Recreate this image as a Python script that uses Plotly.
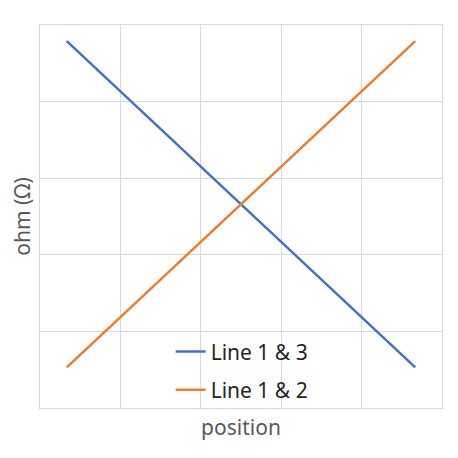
import plotly.graph_objects as go

x_pos = [0.333, 4.667]
line_13 = [4.79, 0.53]
line_12 = [0.53, 4.79]
names = ["Line 1 & 3", "Line 1 & 2"]
colors = ["#4472C4", "#ED7D31"]

fig = go.Figure()
for i, (name, ys) in enumerate(zip(names, [line_13, line_12])):
    fig.add_trace(go.Scatter(x=x_pos, y=ys, mode="lines", name=name,
                             legendgroup=f"g{i}",
                             line=dict(color=colors[i], width=2.5)))

axis_common = dict(showgrid=True, gridcolor="#d9d9d9", gridwidth=1,
                   showline=True, linecolor="#d9d9d9", linewidth=1, mirror=True,
                   showticklabels=False, ticks="", zeroline=False, dtick=1)

fig.update_layout(
    width=450, height=450,
    margin=dict(l=32, r=16, t=17, b=50),
    paper_bgcolor="white", plot_bgcolor="white",
    font=dict(family="Noto Sans", color="#595959"),
    xaxis=dict(range=[0, 5], title=dict(text="position", font=dict(size=21), standoff=12), **axis_common),
    yaxis=dict(range=[0, 5], title=dict(text="ohm (Ω)", font=dict(size=21), standoff=6), **axis_common),
    legend=dict(x=0.325, y=0.097, xanchor="left", yanchor="middle",
                bgcolor="rgba(0,0,0,0)", font=dict(size=21, color="#262626"),
                traceorder="grouped", tracegroupgap=8, itemwidth=30),
    showlegend=True,
)

fig.write_html("out.html")
